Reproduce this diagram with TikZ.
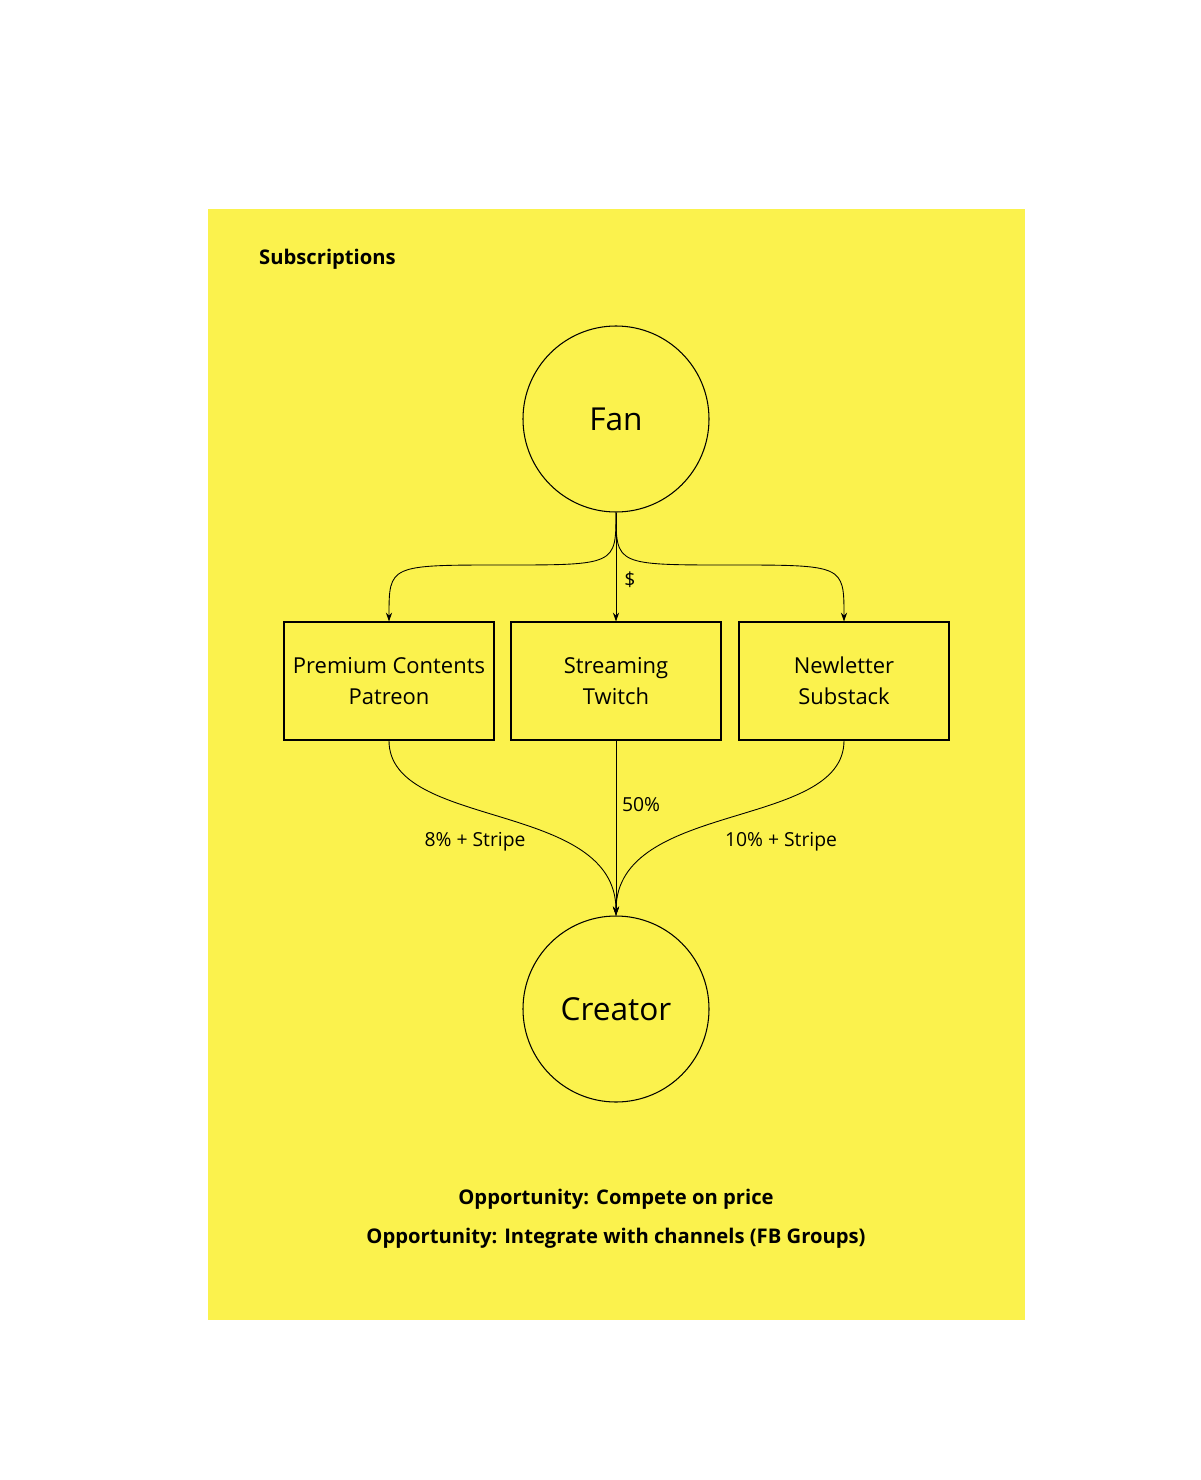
\documentclass[tikz,border=0pt]{standalone}
\usepackage{fontspec}
\setmainfont{Open Sans}
\usetikzlibrary{arrows.meta}
\definecolor{bg}{HTML}{FBF24D}
\begin{document}
\begin{tikzpicture}[x=0.02cm,y=-0.02cm,
  circ/.style={circle,draw,line width=0.6pt,minimum size=186*0.02cm,inner sep=0pt,font=\fontsize{18}{20}\selectfont},
  box/.style={draw,line width=0.6pt,minimum width=210*0.02cm,minimum height=118*0.02cm,inner sep=0pt,align=center,font=\fontsize{12.5}{17.5}\selectfont},
  lbl/.style={font=\fontsize{11}{13}\selectfont},
  bt/.style={font=\bfseries\fontsize{11.5}{13}\selectfont},
  conn/.style={line width=0.5pt,-{Stealth[length=5pt,width=3.5pt]}}]
\fill[white] (0,0) rectangle (1200,1480);
\useasboundingbox (0,0) rectangle (1200,1480);
\fill[bg] (208,209) rectangle (1025,1320);
\node[bt,anchor=west] (title) at (253,259) {Subscriptions};
\node[circ] (fan) at (616,419) {Fan};
\node[box] (b1) at (389,681) {Premium Contents\\Patreon};
\node[box] (b2) at (616,681) {Streaming\\Twitch};
\node[box] (b3) at (844,681) {Newletter\\Substack};
\node[circ] (cr) at (616,1009) {Creator};
\draw[conn] (fan.south) .. controls (616,565) .. (503,565) .. controls (389,565) .. (b1.north);
\draw[conn] (fan.south) -- (b2.north);
\draw[conn] (fan.south) .. controls (616,565) .. (730,565) .. controls (844,565) .. (b3.north);
\draw[conn] (b1.south) .. controls (389,830) and (616,800) .. (cr.north);
\draw[conn] (b2.south) -- (cr.north);
\draw[conn] (b3.south) .. controls (844,830) and (616,800) .. (cr.north);
\node[lbl] (l0) at (630,580) {\$};
\node[lbl] (l1) at (475,842) {8\% + Stripe};
\node[lbl] (l2) at (641,805) {50\%};
\node[lbl] (l3) at (781,842) {10\% + Stripe};
\node[bt] (o1) at (616,1199) {Opportunity: Compete on price};
\node[bt] (o2) at (616,1238) {Opportunity: Integrate with channels (FB Groups)};
\end{tikzpicture}
\end{document}
